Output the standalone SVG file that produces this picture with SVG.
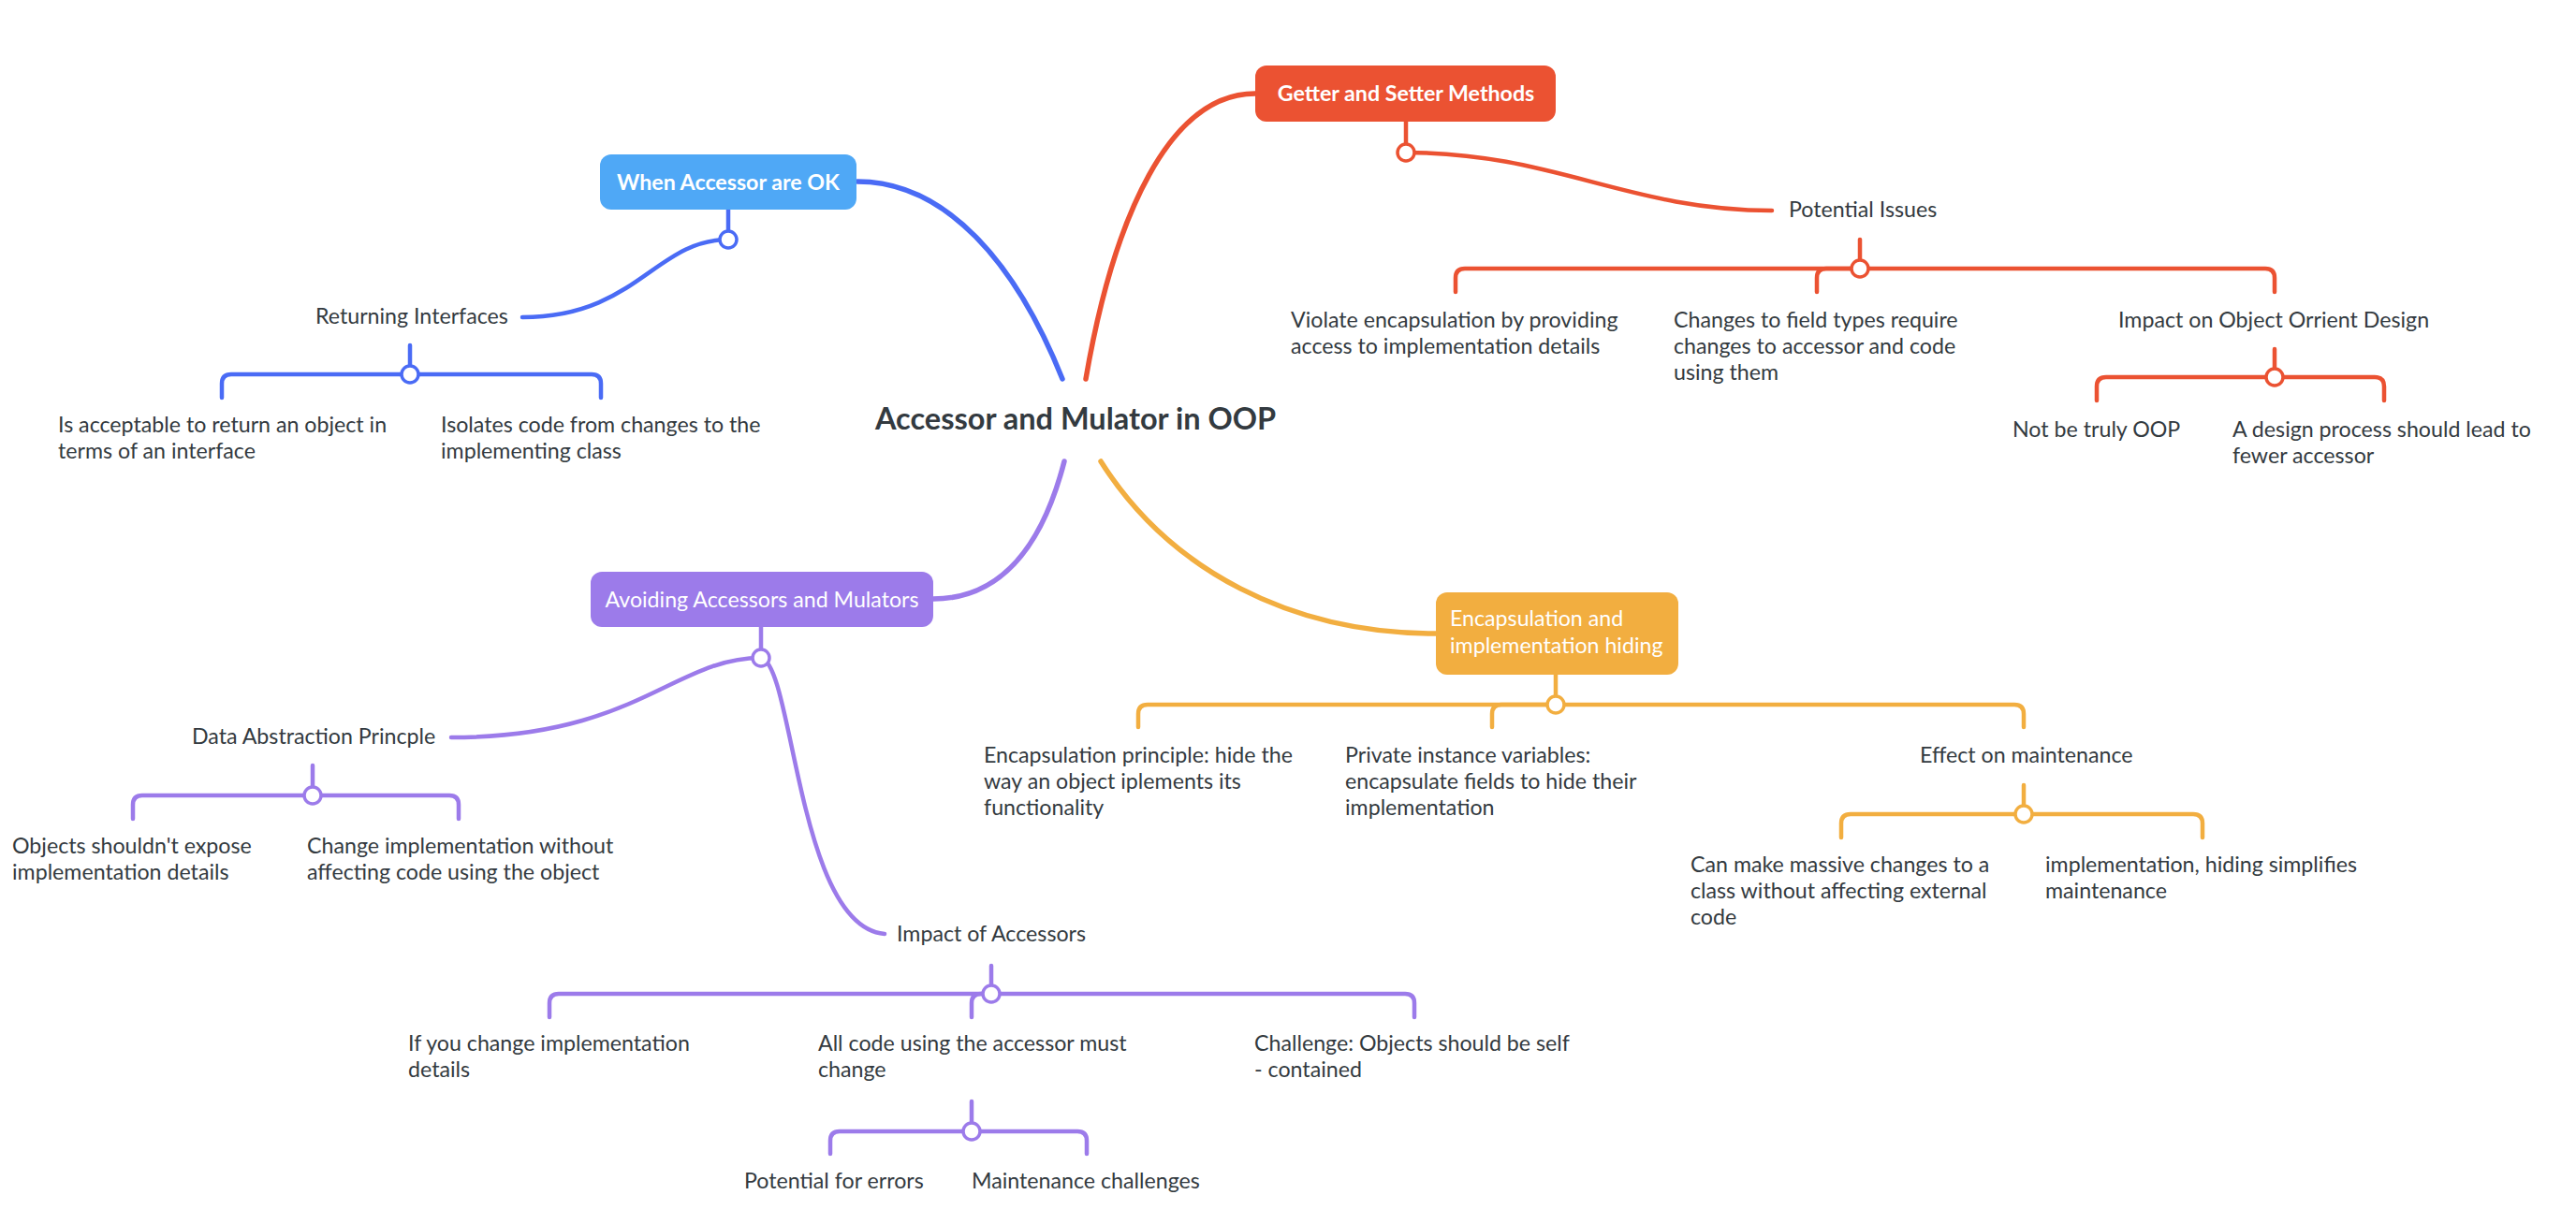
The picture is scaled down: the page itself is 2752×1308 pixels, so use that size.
<svg xmlns="http://www.w3.org/2000/svg" width="2752" height="1308" viewBox="0 0 2752 1308">
<style>
text{font-family:Lato,"Open Sans","Liberation Sans",sans-serif;}
.t{font-size:23.2px;fill:#333a40;}
.title{font-size:32.5px;font-weight:bold;fill:#333a40;}
.bt{font-size:23.2px;fill:#fff;}
.bold{font-weight:bold;}
.c{fill:none;stroke-linecap:round;stroke-linejoin:round;}
.main{stroke-width:5.5;}
.sub{stroke-width:4.5;}
.dot{fill:#fff;stroke-width:3.5;}
.red{stroke:#EB5232;}
.blue{stroke:#4A6BF5;}
.pur{stroke:#9C7BEA;}
.org{stroke:#F2AE40;}
</style>
<rect width="2752" height="1308" fill="#fff"/>
<g id="connectors">
  <path class="c main blue" d="M916 194 C1010 194 1085 280 1135 405"/>
  <path class="c main red" d="M1160 405 C1190 230 1250 100 1341 100"/>
  <path class="c main pur" d="M1137 493 C1112 590 1065 640 997 640"/>
  <path class="c main org" d="M1176 493 C1250 610 1380 677 1534 677"/>
  <path class="c sub red" d="M1502 130 V163"/>
  <path class="c sub red" d="M1502 163 C1660 163 1740 225 1893 225"/>
  <path class="c sub red" d="M1987 256 V287"/>
  <path class="c sub red" d="M1555 312 V297 Q1555 287 1565 287 H2420 Q2430 287 2430 297 V312"/>
  <path class="c sub red" d="M1987 287 H1951 Q1941 287 1941 297 V312"/>
  <path class="c sub red" d="M2430 373 V403"/>
  <path class="c sub red" d="M2240 428 V413 Q2240 403 2250 403 H2537 Q2547 403 2547 413 V428"/>
  <circle class="dot red" cx="1502" cy="163" r="9"/>
  <circle class="dot red" cx="1987" cy="287" r="9"/>
  <circle class="dot red" cx="2430" cy="403" r="9"/>
  <path class="c sub blue" d="M778 224 V256"/>
  <path class="c sub blue" d="M778 256 C700 256 680 339 558 339"/>
  <path class="c sub blue" d="M438 369 V400"/>
  <path class="c sub blue" d="M237 425 V410 Q237 400 247 400 H632 Q642 400 642 410 V425"/>
  <circle class="dot blue" cx="778" cy="256" r="9"/>
  <circle class="dot blue" cx="438" cy="400" r="9"/>
  <path class="c sub pur" d="M813 670 V703"/>
  <path class="c sub pur" d="M813 703 C720 703 680 788 482 788"/>
  <path class="c sub pur" d="M813 703 C848 710 852 990 945 998"/>
  <path class="c sub pur" d="M334 818 V850"/>
  <path class="c sub pur" d="M142 875 V860 Q142 850 152 850 H480 Q490 850 490 860 V875"/>
  <path class="c sub pur" d="M1059 1032 V1062"/>
  <path class="c sub pur" d="M587 1087 V1072 Q587 1062 597 1062 H1501 Q1511 1062 1511 1072 V1087"/>
  <path class="c sub pur" d="M1059 1062 H1048 Q1038 1062 1038 1072 V1087"/>
  <path class="c sub pur" d="M1038 1177 V1209"/>
  <path class="c sub pur" d="M887 1233 V1219 Q887 1209 897 1209 H1151 Q1161 1209 1161 1219 V1233"/>
  <circle class="dot pur" cx="813" cy="703" r="9"/>
  <circle class="dot pur" cx="334" cy="850" r="9"/>
  <circle class="dot pur" cx="1059" cy="1062" r="9"/>
  <circle class="dot pur" cx="1038" cy="1209" r="9"/>
  <path class="c sub org" d="M1662 721 V753"/>
  <path class="c sub org" d="M1216 777 V763 Q1216 753 1226 753 H2152 Q2162 753 2162 763 V777"/>
  <path class="c sub org" d="M1662 753 H1604 Q1594 753 1594 763 V777"/>
  <path class="c sub org" d="M2162 839 V870"/>
  <path class="c sub org" d="M1967 895 V880 Q1967 870 1977 870 H2343 Q2353 870 2353 880 V895"/>
  <circle class="dot org" cx="1662" cy="753" r="9"/>
  <circle class="dot org" cx="2162" cy="870" r="9"/>
</g>
<g id="root"><text class="title" x="1149" y="459" text-anchor="middle">Accessor and Mulator in OOP</text></g>
<g id="getter">
  <rect x="1341" y="70" width="321" height="60" rx="12" fill="#EB5232"/>
  <text class="bt bold" x="1502" y="108" text-anchor="middle">Getter and Setter Methods</text>
</g>
<g id="potential-issues"><text class="t" x="1911" y="232">Potential Issues</text></g>
<g id="violate"><text class="t" x="1379" y="350">Violate encapsulation by providing<tspan x="1379" dy="28">access to implementation details</tspan></text></g>
<g id="field-types"><text class="t" x="1788" y="350">Changes to field types require<tspan x="1788" dy="28">changes to accessor and code</tspan><tspan x="1788" dy="28">using them</tspan></text></g>
<g id="impact-ood"><text class="t" x="2263" y="350">Impact on Object Orrient Design</text></g>
<g id="not-oop"><text class="t" x="2150" y="467">Not be truly OOP</text></g>
<g id="design-process"><text class="t" x="2385" y="467">A design process should lead to<tspan x="2385" dy="28">fewer accessor</tspan></text></g>
<g id="when-ok">
  <rect x="641" y="165" width="274" height="59" rx="12" fill="#4FA8F6"/>
  <text class="bt bold" x="778" y="203" text-anchor="middle">When Accessor are OK</text>
</g>
<g id="returning"><text class="t" x="337" y="346">Returning Interfaces</text></g>
<g id="acceptable"><text class="t" x="62" y="462">Is acceptable to return an object in<tspan x="62" dy="28">terms of an interface</tspan></text></g>
<g id="isolates"><text class="t" x="471" y="462">Isolates code from changes to the<tspan x="471" dy="28">implementing class</tspan></text></g>
<g id="avoiding">
  <rect x="631" y="611" width="366" height="59" rx="12" fill="#9C7BEA"/>
  <text class="bt" x="814" y="649" text-anchor="middle">Avoiding Accessors and Mulators</text>
</g>
<g id="data-abstraction"><text class="t" x="205" y="795">Data Abstraction Princple</text></g>
<g id="objects-expose"><text class="t" x="13" y="912">Objects shouldn't expose<tspan x="13" dy="28">implementation details</tspan></text></g>
<g id="change-impl"><text class="t" x="328" y="912">Change implementation without<tspan x="328" dy="28">affecting code using the object</tspan></text></g>
<g id="impact-accessors"><text class="t" x="958" y="1006">Impact of Accessors</text></g>
<g id="if-change"><text class="t" x="436" y="1123">If you change implementation<tspan x="436" dy="28">details</tspan></text></g>
<g id="all-code"><text class="t" x="874" y="1123">All code using the accessor must<tspan x="874" dy="28">change</tspan></text></g>
<g id="challenge"><text class="t" x="1340" y="1123">Challenge: Objects should be self<tspan x="1340" dy="28">- contained</tspan></text></g>
<g id="potential-errors"><text class="t" x="795" y="1270">Potential for errors</text></g>
<g id="maint-challenges"><text class="t" x="1038" y="1270">Maintenance challenges</text></g>
<g id="encapsulation">
  <rect x="1534" y="633" width="259" height="88" rx="12" fill="#F2AE40"/>
  <text class="bt" x="1549" y="669">Encapsulation and<tspan x="1549" dy="29">implementation hiding</tspan></text>
</g>
<g id="enc-principle"><text class="t" x="1051" y="815">Encapsulation principle: hide the<tspan x="1051" dy="28">way an object iplements its</tspan><tspan x="1051" dy="28">functionality</tspan></text></g>
<g id="private-vars"><text class="t" x="1437" y="815">Private instance variables:<tspan x="1437" dy="28">encapsulate fields to hide their</tspan><tspan x="1437" dy="28">implementation</tspan></text></g>
<g id="effect-maint"><text class="t" x="2051" y="815">Effect on maintenance</text></g>
<g id="massive"><text class="t" x="1806" y="932">Can make massive changes to a<tspan x="1806" dy="28">class without affecting external</tspan><tspan x="1806" dy="28">code</tspan></text></g>
<g id="simplifies"><text class="t" x="2185" y="932">implementation, hiding simplifies<tspan x="2185" dy="28">maintenance</tspan></text></g>
</svg>
